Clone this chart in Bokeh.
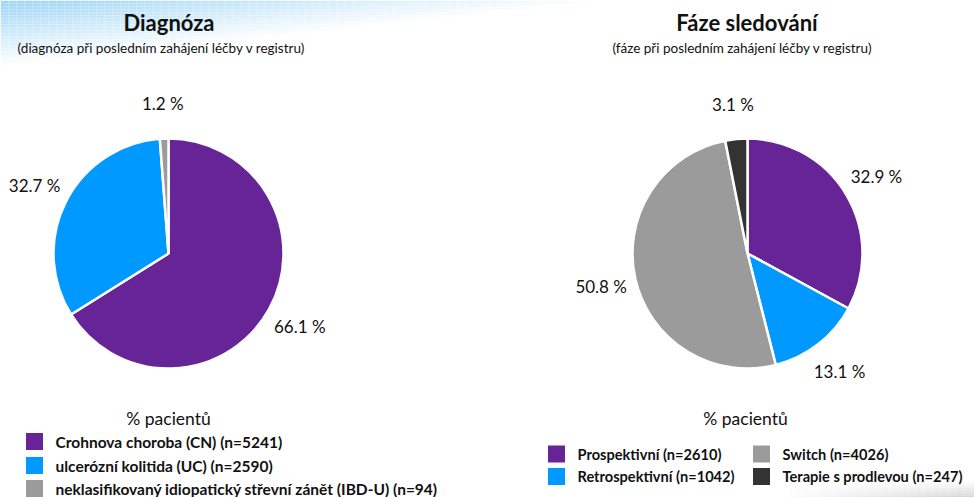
import numpy as np
from bokeh.plotting import figure
from bokeh.models import ColumnDataSource, Range1d
from bokeh.core.properties import value
from bokeh.embed import file_html
from bokeh.resources import INLINE

# ---- data ----
diag_labels = ["Crohnova choroba (CN) (n=5241)", "ulcerózní kolitida (UC) (n=2590)",
               "neklasifikovaný idiopatický střevní zánět (IBD-U) (n=94)"]
diag_pct = [66.1, 32.7, 1.2]
diag_colors = ["#662496", "#0099FF", "#9B9B9B"]

faze_labels = ["Prospektivní (n=2610)", "Retrospektivní (n=1042)",
               "Switch (n=4026)", "Terapie s prodlevou (n=247)"]
faze_pct = [32.9, 13.1, 50.8, 3.1]
faze_colors = ["#662496", "#0099FF", "#9B9B9B", "#333333"]

W, H = 974, 497
FONT = "Lato"

p = figure(width=W, height=H, x_range=Range1d(0, W), y_range=Range1d(0, H),
           output_backend="svg", toolbar_location=None, min_border=0)
p.axis.visible = False
p.grid.visible = False
p.outline_line_color = None
p.background_fill_color = "white"
p.border_fill_color = "white"


def backdrop(x0, x1, ytop, ybot, cw, ch, rgb, alpha_fn):
    xl = np.arange(x0, x1, cw)
    yt = np.arange(ytop, ybot, -ch)
    X, Y = np.meshgrid(xl, yt)
    X, Y = X.ravel(), Y.ravel()
    a = np.clip(alpha_fn(X - x0 + cw / 2, ytop - Y + ch / 2), 0, 1)
    keep = a > 0.01
    X, Y, a = X[keep], Y[keep], a[keep]
    cols = ["#%02x%02x%02x" % tuple(int(round(255 - (255 - c) * ai)) for c in rgb) for ai in a]
    p.quad(left=X, right=X + cw, top=Y, bottom=Y - ch, fill_color=cols,
           line_color=None)


# soft blue slide backdrop along the top-left
backdrop(0, 640, H, H - 80, 8, 3, (165, 216, 247),
         lambda x, d: 1.1 - x / 560.0 - d / 60.0)
# faint grey shadow at bottom-right
backdrop(780, 974, 16, 0, 8, 2, (150, 150, 150),
         lambda x, d: 0.45 * (x / 194.0) * (d / 16.0))

R = 115
LR = 150


def pie(cx, cy, pct, colors):
    frac = np.array(pct) / sum(pct)
    cum = np.concatenate([[0], np.cumsum(frac)])
    start = np.pi / 2 - cum[:-1] * 2 * np.pi
    end = np.pi / 2 - cum[1:] * 2 * np.pi
    src = ColumnDataSource(dict(start=start, end=end, color=colors))
    p.wedge(x=cx, y=cy, radius=R, start_angle="start", end_angle="end",
            direction="clock", fill_color="color", line_color="white",
            line_width=2.5, source=src)
    mid = (start + end) / 2
    lsrc = ColumnDataSource(dict(x=cx + LR * np.cos(mid), y=cy + LR * np.sin(mid),
                                 t=[f"{v:.1f} %" for v in pct]))
    p.text(x="x", y="y", text="t", source=lsrc, text_align="center",
           text_baseline="middle", text_font=value(FONT), text_font_size="17px",
           text_color="#111111")


pie(168, 244, diag_pct, diag_colors)
pie(747, 244, faze_pct, faze_colors)


def label(x, y, txt, size, bold=False, align="center", color="#111111"):
    p.text(x=[x], y=[y], text=[txt], text_align=align, text_baseline="middle",
           text_font=value(FONT), text_font_size=size,
           text_font_style="bold" if bold else "normal", text_color=color)


label(168.5, 475, "Diagnóza", "22px", bold=True)
label(161, 450, "(diagnóza při posledním zahájení léčby v registru)", "13.5px")
label(746.5, 475, "Fáze sledování", "22px", bold=True)
label(742, 450, "(fáze při posledním zahájení léčby v registru)", "13.5px")
label(168, 79, "% pacientů", "17.5px")
label(745, 79, "% pacientů", "17.5px")

# left legend
ly = [56, 32, 9]
p.rect(x=[34] * 3, y=ly, width=17, height=17, fill_color=diag_colors, line_color=None)
p.text(x=[55] * 3, y=ly, text=diag_labels, text_align="left", text_baseline="middle",
       text_font=value(FONT), text_font_size="15.5px", text_font_style="bold",
       text_color="#111111")

# right legend (2 columns)
rx = [556, 556, 761, 761]
ry = [43.5, 21, 43.5, 21]
p.rect(x=rx, y=ry, width=17, height=17, fill_color=faze_colors, line_color=None)
p.text(x=[v + 21 for v in rx], y=ry, text=faze_labels, text_align="left",
       text_baseline="middle", text_font=value(FONT), text_font_size="14.6px",
       text_font_style="bold", text_color="#111111")

open("out.html", "w").write(file_html(p, INLINE))
